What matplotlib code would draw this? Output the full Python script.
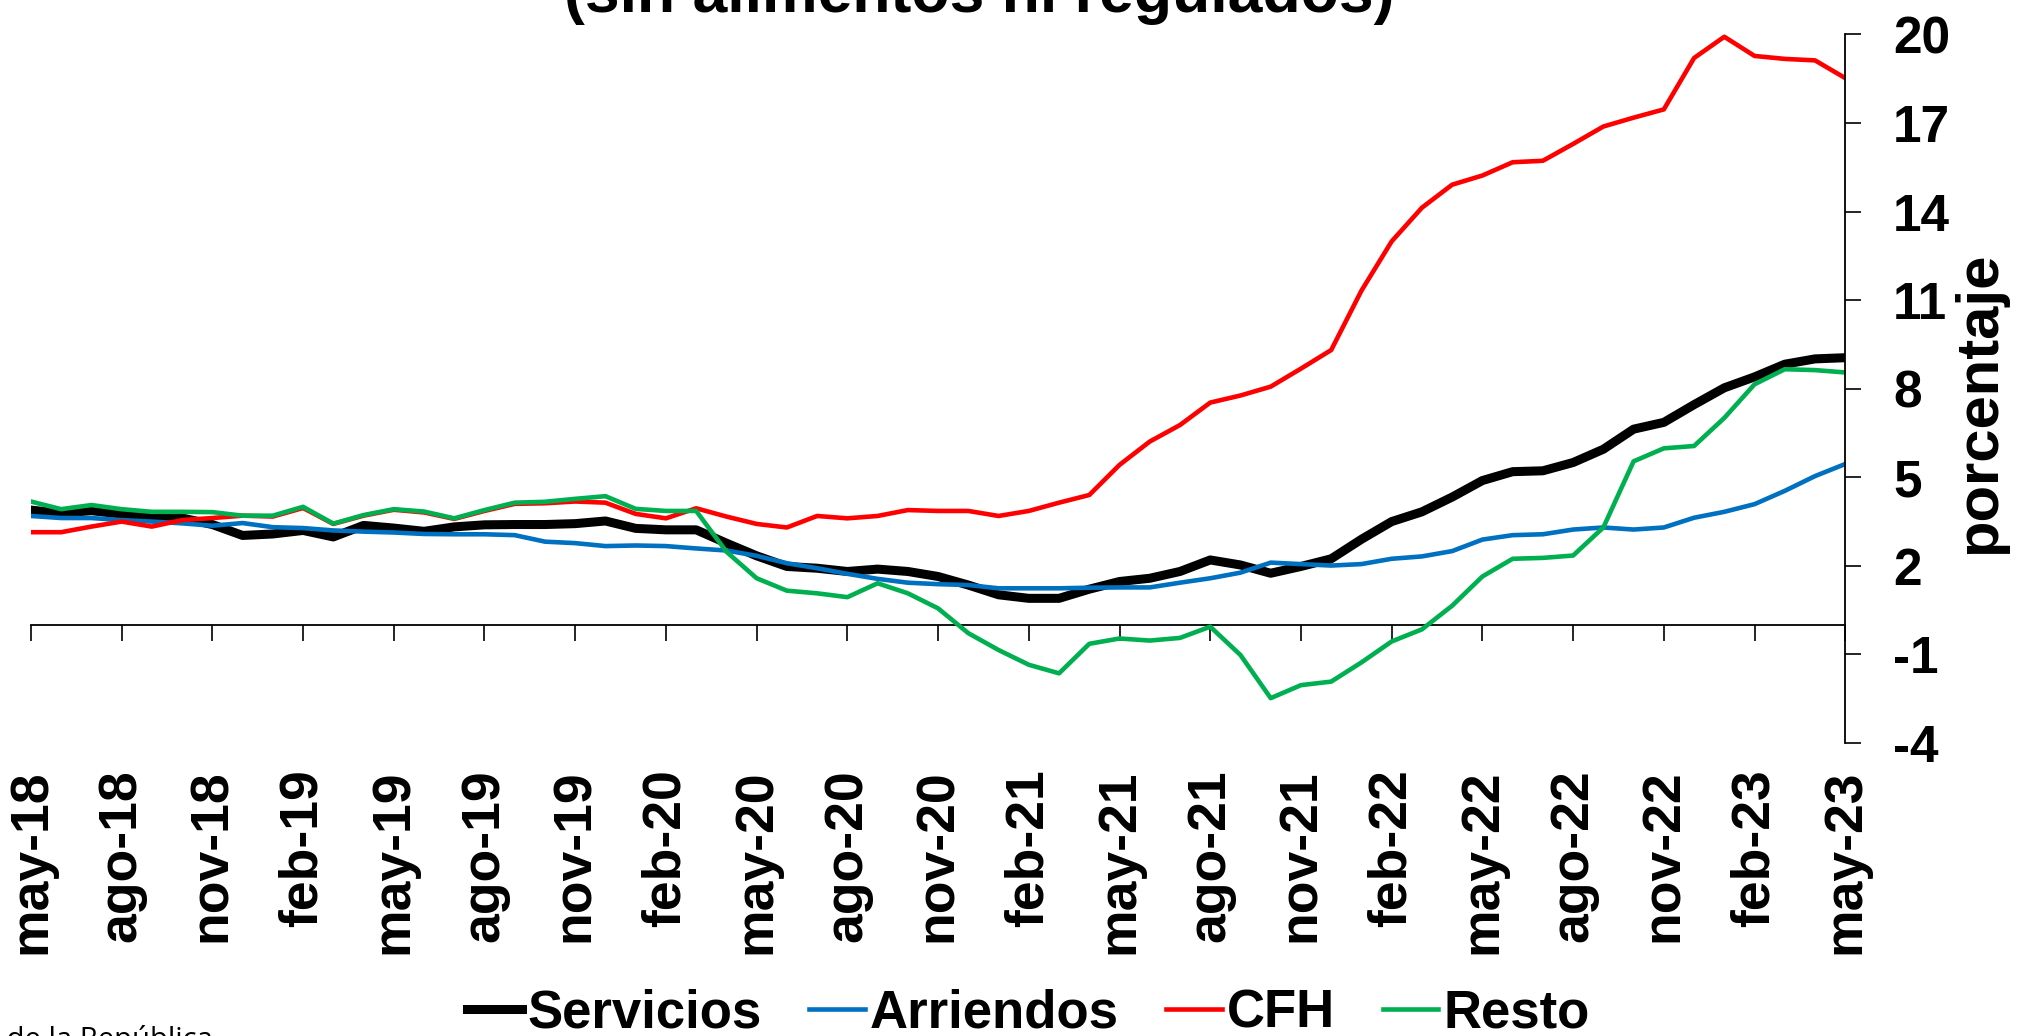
import numpy as np
import pandas as pd
import matplotlib
matplotlib.use("Agg")
import matplotlib.pyplot as plt

plt.rcParams['font.family'] = ['Liberation Sans', 'DejaVu Sans']
plt.rcParams['font.weight'] = 'bold'
plt.rcParams['axes.unicode_minus'] = False

# monthly series, may-18 .. may-23 (percent)
meses = ['ene', 'feb', 'mar', 'abr', 'may', 'jun', 'jul', 'ago', 'sep', 'oct', 'nov', 'dic']
fechas = pd.date_range('2018-05-01', periods=61, freq='MS')

servicios = [3.89, 3.78, 3.87, 3.75, 3.67, 3.62, 3.40, 3.03, 3.08, 3.20,
             2.98, 3.37, 3.28, 3.17, 3.32, 3.39, 3.40, 3.40, 3.43, 3.52,
             3.27, 3.22, 3.22, 2.77, 2.34, 1.98, 1.92, 1.81, 1.89, 1.81,
             1.64, 1.35, 1.02, 0.90, 0.90, 1.21, 1.47, 1.58, 1.81, 2.20,
             2.03, 1.75, 1.98, 2.24, 2.90, 3.50, 3.83, 4.33, 4.89, 5.19,
             5.22, 5.50, 5.95, 6.63, 6.86, 7.46, 8.03, 8.40, 8.83, 9.01, 9.05]

arriendos = [3.69, 3.62, 3.62, 3.55, 3.50, 3.44, 3.36, 3.45, 3.31, 3.28,
             3.20, 3.16, 3.13, 3.08, 3.07, 3.07, 3.04, 2.82, 2.77, 2.67,
             2.69, 2.67, 2.59, 2.52, 2.34, 2.09, 1.92, 1.73, 1.56, 1.43,
             1.38, 1.35, 1.24, 1.24, 1.24, 1.26, 1.27, 1.27, 1.43, 1.58,
             1.77, 2.11, 2.06, 2.01, 2.06, 2.24, 2.32, 2.50, 2.89, 3.04,
             3.07, 3.23, 3.30, 3.23, 3.30, 3.63, 3.83, 4.09, 4.54, 5.04, 5.45]

cfh = [3.14, 3.14, 3.33, 3.50, 3.33, 3.55, 3.62, 3.70, 3.67, 3.96,
       3.42, 3.70, 3.90, 3.81, 3.59, 3.86, 4.10, 4.12, 4.18, 4.14,
       3.76, 3.61, 3.95, 3.67, 3.42, 3.30, 3.69, 3.61, 3.69, 3.89,
       3.86, 3.86, 3.69, 3.86, 4.14, 4.40, 5.42, 6.21, 6.77, 7.53,
       7.77, 8.07, 8.68, 9.31, 11.32, 12.99, 14.13, 14.91, 15.22, 15.67,
       15.72, 16.29, 16.88, 17.18, 17.46, 19.20, 19.92, 19.27, 19.17, 19.12, 18.52]

resto = [4.18, 3.92, 4.06, 3.92, 3.83, 3.83, 3.82, 3.70, 3.70, 4.00,
         3.43, 3.72, 3.92, 3.84, 3.61, 3.89, 4.14, 4.17, 4.27, 4.36,
         3.93, 3.86, 3.86, 2.48, 1.58, 1.16, 1.07, 0.94, 1.41, 1.07,
         0.56, -0.28, -0.85, -1.35, -1.64, -0.64, -0.46, -0.53, -0.44, -0.06,
         -1.02, -2.48, -2.04, -1.92, -1.27, -0.56, -0.15, 0.65, 1.64, 2.24,
         2.27, 2.35, 3.30, 5.54, 5.98, 6.06, 7.01, 8.15, 8.66, 8.63, 8.55]

etiquetas = [meses[d.month - 1] + '-' + str(d.year % 100) for d in fechas]
x = np.arange(len(fechas))

fig = plt.figure(figsize=(20.2, 10.36), dpi=100)
ax = fig.add_axes([0.0153, 0.2828, 0.8982, 0.684])

ax.plot(x, servicios, color='black', lw=6.5, solid_joinstyle='round', label='Servicios')
ax.plot(x, arriendos, color='#0070C0', lw=3.3, solid_joinstyle='round', label='Arriendos')
ax.plot(x, cfh, color='#FF0000', lw=3.3, solid_joinstyle='round', label='CFH')
ax.plot(x, resto, color='#00B050', lw=3.3, solid_joinstyle='round', label='Resto')

ax.set_xlim(0, 60)
ax.set_ylim(-4, 20)

# y axis on the right
ax.yaxis.tick_right()
ax.set_yticks(range(-4, 21, 3))
ax.tick_params(axis='y', direction='out', length=11.5, width=1.2, pad=23, labelsize=37)
for s in ['left', 'top', 'bottom']:
    ax.spines[s].set_visible(False)
ax.spines['right'].set_linewidth(1.3)

# month labels along the bottom, tick marks on the zero line
ax.set_xticks(x[::3])
ax.set_xticklabels(etiquetas[::3], rotation=90)
ax.tick_params(axis='x', length=0, pad=19, labelsize=38.5)

cero = ax.secondary_xaxis((0 - ax.get_ylim()[0]) / (ax.get_ylim()[1] - ax.get_ylim()[0]))
cero.set_xticks(x[::3])
cero.tick_params(axis='x', direction='out', length=11.5, width=1.2, labelbottom=False)
cero.spines['bottom'].set_linewidth(1.3)

fig.text(1980 / 2020, 1 - 403 / 1036, 'porcentaje', rotation=90, ha='center', va='center', fontsize=43)
fig.text(0.485, 1 - 12 / 1036, '(sin alimentos ni regulados)', ha='center', va='baseline', fontsize=45)
fig.text(213 / 2020, 1 - 1025 / 1036, 'Fuente: DANE; cálculos del Banco de la República',
         ha='right', va='top', fontsize=21, fontweight='normal', family=['Open Sans', 'DejaVu Sans'])

fig.legend(loc='center', bbox_to_anchor=(0.509, 0.022), ncol=4, frameon=False,
           prop={'size': 38, 'weight': 'bold'}, handlelength=1.05, handletextpad=0.1,
           columnspacing=0.9, borderaxespad=0, borderpad=0)

fig.savefig('out.png', dpi=100)
